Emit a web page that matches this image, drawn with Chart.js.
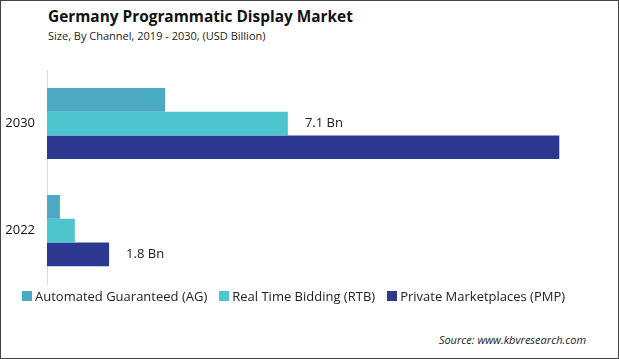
<!DOCTYPE html>
<html>
<head>
<meta charset="utf-8">
<script src="https://cdn.jsdelivr.net/npm/chart.js@4"></script>
<style>
  html, body { margin: 0; padding: 0; }
  body { width: 619px; height: 359px; position: relative; background: #fff; font-family: "Open Sans", sans-serif; overflow: hidden; }
  .frame { position: absolute; left: 0; top: 0; width: 617px; height: 357px; border: 1px solid #444; }
  .title { position: absolute; left: 48px; top: 6px; font-size: 15.4px; font-weight: bold; color: #111; }
  .sub { position: absolute; left: 48px; top: 28px; font-size: 11px; color: #222; }
  .source { position: absolute; right: 33px; top: 332px; font-size: 11px; font-style: italic; color: #222; }
  #legend { position: absolute; left: 22px; top: 287px; font-size: 13px; color: #222; display: flex; }
  #legend span.item { display: flex; align-items: center; margin-right: 12px; }
  #legend span.box { width: 10px; height: 10px; margin-right: 3px; display: inline-block; }
  #wrap { position: absolute; left: 0; top: 0; width: 619px; height: 304px; }
</style>
</head>
<body>
<div class="frame"></div>
<div class="title">Germany Programmatic Display Market</div>
<div class="sub">Size, By Channel, 2019 - 2030, (USD Billion)</div>
<div id="wrap"><canvas id="c"></canvas></div>
<div id="legend"></div>
<div class="source">Source: www.kbvresearch.com</div>
<script>
const years = ["2030", "2022"];
const seriesNames = ["Automated Guaranteed (AG)", "Real Time Bidding (RTB)", "Private Marketplaces (PMP)"];
const seriesColors = ["#4aaac3", "#4ec4cf", "#2b3990"];
const agValues = [3.48, 0.38];
const rtbValues = [7.1, 0.82];
const pmpValues = [15.1, 1.83];
// which bar gets a value label
const valueLabels = [
  { series: 1, year: 0, text: "7.1 Bn" },
  { series: 2, year: 1, text: "1.8 Bn" }
];

const labelPlugin = {
  id: "valueLabels",
  afterDatasetsDraw(chart) {
    const ctx = chart.ctx;
    ctx.save();
    ctx.font = "13px 'Open Sans', sans-serif";
    ctx.fillStyle = "#222";
    ctx.textBaseline = "middle";
    valueLabels.forEach(l => {
      const bar = chart.getDatasetMeta(l.series).data[l.year];
      ctx.fillText(l.text, bar.x + 17, bar.y);
    });
    ctx.restore();
  }
};

new Chart(document.getElementById("c"), {
  type: "bar",
  data: {
    labels: years,
    datasets: [
      { label: seriesNames[0], data: agValues, backgroundColor: seriesColors[0] },
      { label: seriesNames[1], data: rtbValues, backgroundColor: seriesColors[1] },
      { label: seriesNames[2], data: pmpValues, backgroundColor: seriesColors[2] }
    ]
  },
  options: {
    indexAxis: "y",
    responsive: true,
    maintainAspectRatio: false,
    animation: false,
    layout: { padding: { top: 70, left: 3, right: 19, bottom: 6 } },
    datasets: { bar: { barPercentage: 1, categoryPercentage: 0.664 } },
    plugins: { legend: { display: false }, tooltip: { enabled: false } },
    scales: {
      x: { display: false, min: 0, max: 16.3 },
      y: {
        afterFit: s => { s.width = 44; },
        grid: { display: false, drawTicks: false },
        border: { display: true, color: "#d9d9d9", width: 1 },
        ticks: { padding: 12, color: "#111", font: { family: "'Open Sans', sans-serif", size: 13 } }
      }
    }
  },
  plugins: [labelPlugin]
});

const legend = document.getElementById("legend");
seriesNames.forEach((n, i) => {
  legend.innerHTML += '<span class="item"><span class="box" style="background:' + seriesColors[i] + '"></span>' + n + '</span>';
});
</script>
</body>
</html>
